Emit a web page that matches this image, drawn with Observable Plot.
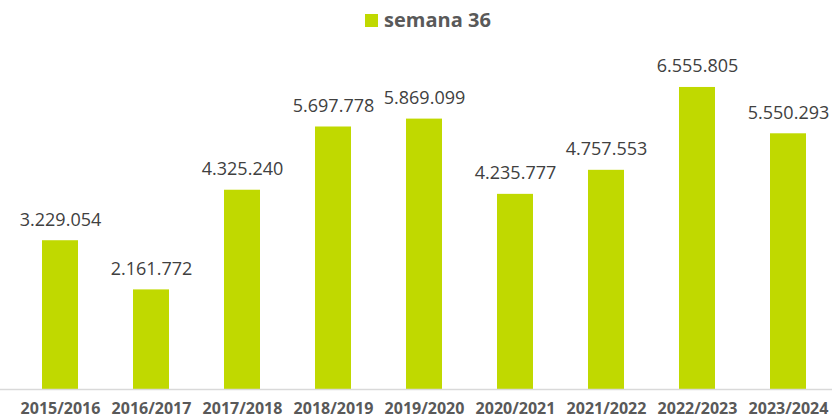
<!DOCTYPE html>
<html>
<head>
<meta charset="utf-8">
<script src="https://cdn.jsdelivr.net/npm/d3@7"></script>
<script src="https://cdn.jsdelivr.net/npm/@observablehq/plot@0.6"></script>
<style>
  body { margin: 0; background: #fff; font-family: "Open Sans", sans-serif; }
  #legend { height: 40px; display: flex; justify-content: center; align-items: flex-start; }
  #legend .item { display: flex; align-items: center; margin-top: 10px; margin-left: 24px; color: #595959; font-weight: bold; font-size: 20px; line-height: 20px; }
  #legend .swatch { width: 13px; height: 13px; background: #c0d900; margin-right: 6px; }
</style>
</head>
<body>
<div id="legend"><div class="item"><span class="swatch"></span><span>semana 36</span></div></div>
<div id="chart"></div>
<script>
const seasons = ["2015/2016","2016/2017","2017/2018","2018/2019","2019/2020","2020/2021","2021/2022","2022/2023","2023/2024"];
const values = [3229054, 2161772, 4325240, 5697778, 5869099, 4235777, 4757553, 6555805, 5550293];
const seriesName = "semana 36";

const data = seasons.map((s, i) => ({season: s, value: values[i]}));
const fmt = d3.formatLocale({thousands: ".", grouping: [3], decimal: ","}).format(",d");
const barColor = "#c0d900";

const chart = Plot.plot({
  width: 832,
  height: 380,
  marginTop: 26.5,
  marginBottom: 31,
  marginLeft: 0,
  marginRight: 0,
  style: {fontFamily: "'Open Sans', sans-serif", background: "#fff", overflow: "visible"},
  x: {domain: seasons, range: [12.6, 835.7], paddingInner: 0.6, paddingOuter: 0.3, align: 0.5, label: null},
  y: {domain: [0, 7000000], axis: null},
  marks: [
    Plot.barY(data, {x: "season", y: "value", fill: barColor}),
    Plot.ruleY([0], {stroke: "#d9d9d9", strokeWidth: 1.5}),
    Plot.text(data, {x: "season", y: "value", text: d => fmt(d.value), dy: -20.8, fontSize: 18, fill: "#404040"}),
    Plot.axisX({tickSize: 0, tickPadding: 13.5, fontSize: 16, fontWeight: "bold", fill: "#595959", label: null})
  ]
});
document.getElementById("chart").appendChild(chart);
</script>
</body>
</html>
